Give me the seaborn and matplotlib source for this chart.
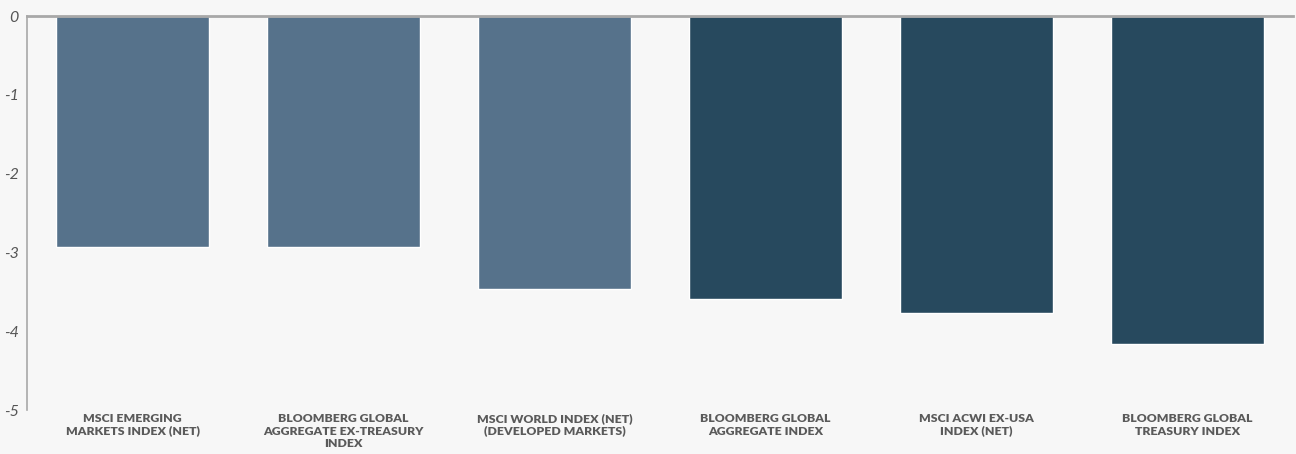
import matplotlib
matplotlib.use("Agg")
import matplotlib.pyplot as plt
import seaborn as sns
import pandas as pd

categories = [
    "MSCI EMERGING\nMARKETS INDEX (NET)",
    "BLOOMBERG GLOBAL\nAGGREGATE EX-TREASURY\nINDEX",
    "MSCI WORLD INDEX (NET)\n(DEVELOPED MARKETS)",
    "BLOOMBERG GLOBAL\nAGGREGATE INDEX",
    "MSCI ACWI EX-USA\nINDEX (NET)",
    "BLOOMBERG GLOBAL\nTREASURY INDEX",
]
values = [-2.93, -2.93, -3.46, -3.59, -3.77, -4.16]
groups = ["a", "a", "a", "b", "b", "b"]
yticks = [0, -1, -2, -3, -4, -5]

sns.set_theme(style="white")
plt.rcParams["font.family"] = ["Lato", "DejaVu Sans"]

bg = "#F7F7F7"
fig = plt.figure(figsize=(12.96, 4.54), dpi=100, facecolor=bg)
ax = fig.add_axes([27/1296, 1 - 410/454, (1293 - 27)/1296, (410 - 16)/454])
ax.set_facecolor(bg)

df = pd.DataFrame({"cat": categories, "val": values, "grp": groups})
sns.barplot(data=df, x="cat", y="val", hue="grp",
            palette={"a": "#56728B", "b": "#27495E"},
            width=0.725, dodge=False, legend=False, ax=ax,
            saturation=1)

ax.set_xlim(-0.5, 5.5)
ax.set_ylim(-5, 0)
ax.set_yticks(yticks)
ax.set_yticklabels([str(t) for t in yticks], fontstyle="italic",
                   fontsize=11.5, color="#555555")
ax.set_xticks(range(len(categories)))
ax.set_xticklabels(categories, fontsize=8.8, fontweight="heavy",
                   color="#5a5a5a", linespacing=1.2)
ax.tick_params(axis="both", length=0)
ax.tick_params(axis="y", pad=6)
ax.tick_params(axis="x", pad=2)
ax.set_xlabel("")
ax.set_ylabel("")

for s in ["right", "bottom"]:
    ax.spines[s].set_visible(False)
ax.spines["top"].set_color("#A8A8A8")
ax.spines["top"].set_linewidth(2)
ax.spines["left"].set_color("#A8A8A8")
ax.spines["left"].set_linewidth(1.2)

fig.savefig("out.png", dpi=100, facecolor=bg)
